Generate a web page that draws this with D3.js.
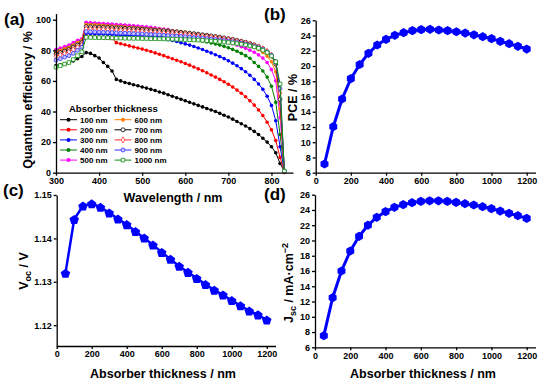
<!DOCTYPE html>
<html>
<head>
<meta charset="utf-8">
<script src="https://cdn.jsdelivr.net/npm/d3@7"></script>
<style>
  body { margin: 0; background: #fff; }
  text { font-family: "Liberation Sans", Arial, sans-serif; font-weight: bold; fill: #000; }
  .tick text { font-size: 9px; }
  .domain, .tick line { stroke: #000; stroke-width: 1.3px; }
</style>
</head>
<body>
<svg id="fig" width="550" height="386"></svg>
<script>
// ---- data ----
const wavelength = [300, 310, 320, 330, 340, 350, 360, 370, 380, 390,
  400, 410, 420, 430, 440, 450, 460, 470, 480, 490,
  500, 510, 520, 530, 540, 550, 560, 570, 580, 590,
  600, 610, 620, 630, 640, 650, 660, 670, 680, 690,
  700, 710, 720, 730, 740, 750, 760, 770, 780, 790,
  800, 810, 820, 830];

const qe100 = [70, 70.5, 71, 72, 73, 74.5, 76, 78.5, 78, 76.5,
  75, 72, 69.5, 66.5, 61, 60, 59, 58.3, 57.5, 56.8,
  56, 55.3, 54.5, 53.7, 52.8, 52, 51, 50, 49, 48,
  47, 46, 45, 44, 43, 42, 41, 40, 38.8, 37.6,
  36.4, 35, 33.5, 32, 30.5, 28.8, 27, 25, 22.5, 20,
  17, 13, 6, 1];
const qe200 = [78, 79, 80, 81, 82.5, 84, 85, 89, 88.8, 88.6,
  88.4, 88.2, 88, 87.8, 85, 84.3, 83.6, 82.9, 82.2, 81.5,
  80.8, 80, 79.2, 78.3, 77.4, 76.5, 75.5, 74.5, 73.5, 72.5,
  71.4, 70.3, 69.1, 67.9, 66.6, 65.3, 63.9, 62.5, 61, 59.5,
  57.8, 56, 54, 51.9, 49.6, 47, 44.2, 41, 37.4, 33,
  28, 21, 10, 1];
const qe300 = [79, 80, 81, 82, 83.5, 85, 86, 91, 90.8, 90.7,
  90.6, 90.5, 90.4, 90.3, 90, 89.9, 89.8, 89.7, 89.6, 89.5,
  89.4, 89.3, 89.2, 89.1, 89, 88.9, 87, 86.5, 85.8, 85,
  84.2, 83.4, 82.5, 81.5, 80.5, 79.4, 78.3, 77.1, 75.9, 74.6,
  73.2, 71.6, 69.9, 68, 66, 63.7, 61, 58, 54.5, 50,
  44, 34, 17, 1];
const qe400 = [80, 81, 82, 83, 84.5, 86, 87, 98, 97.8, 97.6,
  97.4, 97.2, 97, 96.8, 96.6, 96.4, 96.2, 96, 95.8, 95.6,
  95.2, 94.8, 94.3, 93.8, 93.2, 92.5, 91.8, 91, 90.2, 89.4,
  88.6, 87.9, 87.2, 86.6, 86, 85.4, 84.8, 84.1, 83.4, 82.6,
  81.7, 80.6, 79.4, 78, 76.5, 74.8, 72, 69.5, 66.5, 62.5,
  56.5, 46, 25, 1];
const qe500 = [80.5, 81.5, 82.5, 83.5, 85, 86.5, 87.5, 98.3, 98.1, 97.9,
  97.7, 97.5, 97.3, 97.1, 96.9, 96.7, 96.5, 96.3, 96.1, 95.9,
  95.6, 95.3, 95, 94.7, 94.3, 93.9, 93.5, 93, 92.5, 92,
  91.5, 91, 90.4, 89.8, 89.2, 88.6, 87.9, 87.2, 86.5, 85.8,
  85.1, 84.3, 83.4, 82.4, 81.3, 80.1, 78.7, 77, 74.9, 72,
  67.5, 60, 36, 1];
const qe600 = [79, 80, 81, 82, 83.5, 85, 86.5, 96.8, 96.7, 96.6,
  96.5, 96.3, 96.1, 95.9, 95.7, 95.5, 95.3, 95.1, 94.9, 94.7,
  94.5, 94.3, 94.1, 93.9, 93.7, 93.4, 93.1, 92.8, 92.5, 92.2,
  91.9, 91.5, 91.1, 90.7, 90.3, 89.8, 89.3, 88.8, 88.2, 87.6,
  87, 86.3, 85.6, 84.8, 83.9, 83, 81.8, 80.4, 78.6, 76.2,
  72.5, 66, 42, 1];
const qe700 = [77.5, 78.5, 79.5, 80.5, 82, 83.5, 85, 95.5, 95.4, 95.3,
  95.2, 95.1, 95, 94.9, 94.7, 94.6, 94.4, 94.3, 94.1, 94,
  93.8, 93.6, 93.4, 93.2, 93, 92.8, 92.6, 92.3, 92.1, 91.8,
  91.5, 91.2, 90.9, 90.6, 90.2, 89.9, 89.5, 89.1, 88.7, 88.2,
  87.7, 87.2, 86.6, 86, 85.3, 84.5, 83.6, 82.5, 81.1, 79.2,
  76.5, 71, 48, 1];
const qe800 = [76, 77, 78, 79, 80.5, 82, 83.5, 94, 93.9, 93.8,
  93.7, 93.6, 93.5, 93.4, 93.2, 93.1, 93, 92.8, 92.7, 92.5,
  92.4, 92.2, 92, 91.8, 91.6, 91.4, 91.2, 91, 90.8, 90.5,
  90.3, 90, 89.7, 89.4, 89.1, 88.8, 88.5, 88.1, 87.7, 87.3,
  86.9, 86.4, 85.9, 85.3, 84.7, 84, 83.2, 82.2, 80.9, 79.2,
  76.8, 72, 52, 1];
const qe900 = [73.5, 74.5, 75.5, 76.5, 78, 80, 82, 92.2, 92.1, 92,
  91.9, 91.8, 91.7, 91.6, 91.4, 91.3, 91.2, 91.1, 90.9, 90.8,
  90.7, 90.5, 90.4, 90.2, 90.1, 89.9, 89.7, 89.5, 89.3, 89.1,
  88.9, 88.7, 88.4, 88.2, 87.9, 87.7, 87.4, 87.1, 86.8, 86.4,
  86, 85.6, 85.1, 84.6, 84, 83.4, 82.6, 81.7, 80.5, 78.9,
  76.7, 72.5, 55, 1];
const qe1000 = [69, 70, 71, 72, 74, 76.5, 79, 88.5, 88.4, 88.3,
  88.3, 88.2, 88.2, 88.1, 88, 88, 87.9, 87.9, 87.8, 87.8,
  87.7, 87.7, 87.6, 87.6, 87.5, 87.5, 87.4, 87.3, 87.2, 87.1,
  87, 86.9, 86.8, 86.7, 86.5, 86.3, 86.1, 85.9, 85.7, 85.4,
  85.1, 84.8, 84.4, 84, 83.5, 82.9, 82.2, 81.3, 80.1, 78.5,
  76.3, 72.5, 58, 1];

const thickness = [50, 100, 150, 200, 250, 300, 350, 400, 450, 500, 550, 600,
  650, 700, 750, 800, 850, 900, 950, 1000, 1050, 1100, 1150, 1200];
const pce = [7.14, 12.04, 15.67, 18.34, 20.2, 21.67, 22.76, 23.5, 24.03, 24.37, 24.64, 24.77,
  24.82, 24.73, 24.64, 24.5, 24.33, 24.1, 23.85, 23.6, 23.24, 22.93, 22.59, 22.23];
const voc = [1.1320, 1.1444, 1.1475, 1.1480, 1.1472, 1.1459, 1.1445, 1.1432, 1.1416, 1.1401, 1.1385, 1.1368,
  1.1352, 1.1336, 1.1322, 1.1308, 1.1294, 1.1281, 1.1270, 1.1257, 1.1245, 1.1233, 1.1224, 1.1212];
const jsc = [7.52, 12.5, 16.0, 18.62, 20.55, 22.0, 23.04, 23.78, 24.35, 24.7, 24.95, 25.13,
  25.2, 25.2, 25.13, 25.0, 24.82, 24.65, 24.43, 24.17, 23.86, 23.56, 23.25, 22.9];

const qeLabels = ["100 nm", "200 nm", "300 nm", "400 nm", "500 nm",
  "600 nm", "700 nm", "800 nm", "900 nm", "1000 nm"];
const qeValues = [qe100, qe200, qe300, qe400, qe500, qe600, qe700, qe800, qe900, qe1000];

// styling per series (line colour, marker shape, marker fill)
const qeStyle = [
  { color: "#000000", shape: "circle", fill: "#000000" },
  { color: "#ff0000", shape: "circle", fill: "#ff0000" },
  { color: "#0000ff", shape: "circle", fill: "#0000ff" },
  { color: "#008000", shape: "circle", fill: "#008000" },
  { color: "#ff00ff", shape: "circle", fill: "#ff00ff" },
  { color: "#ff8000", shape: "circle", fill: "#ff8000" },
  { color: "#000000", shape: "circle", fill: "#ffffff" },
  { color: "#ff3030", shape: "diamond", fill: "#ffffff" },
  { color: "#3030ff", shape: "circle", fill: "#c8c8ff" },
  { color: "#109010", shape: "square", fill: "#ffffff" }
];

const svg = d3.select("#fig");

function poly(n, r, rot) {
  const pts = d3.range(n).map(i => {
    const a = rot + i * 2 * Math.PI / n;
    return [(r * Math.sin(a)).toFixed(2), (-r * Math.cos(a)).toFixed(2)];
  });
  return "M" + pts.join("L") + "Z";
}

function axes(g, x, y, xTicks, yTicks, yFmt) {
  g.append("g")
    .attr("transform", `translate(0,${y.range()[0]})`)
    .call(d3.axisBottom(x).tickValues(xTicks).tickSize(3).tickSizeOuter(0).tickPadding(2).tickFormat(d3.format("d")));
  g.append("g")
    .attr("transform", `translate(${x.range()[0]},0)`)
    .call(d3.axisLeft(y).tickValues(yTicks).tickSize(3).tickSizeOuter(0).tickPadding(2).tickFormat(yFmt));
}

function panelLabel(txt, x, y) {
  svg.append("text").attr("x", x).attr("y", y).attr("font-size", 17).text(txt);
}

function rotLabel(x, y) {
  return svg.append("text")
    .attr("transform", `translate(${x},${y}) rotate(-90)`)
    .attr("text-anchor", "middle")
    .attr("font-size", 12.5);
}

// ---- (a) quantum efficiency ----
const xa = d3.scaleLinear().domain([300, 850]).range([56, 293]);
const ya = d3.scaleLinear().domain([0, 104]).range([172.7, 13.6]);
const ga = svg.append("g");

const lineA = d3.line().x((d, i) => xa(wavelength[i])).y(d => ya(d));

qeValues.forEach((vals, k) => {
  const st = qeStyle[k];
  const s = ga.append("g");
  s.append("path").attr("d", lineA(vals))
    .attr("fill", "none").attr("stroke", st.color).attr("stroke-width", 1);
  const sym = st.shape === "circle" ? null
    : st.shape === "square" ? d3.symbol(d3.symbolSquare, 13)
    : d3.symbol(d3.symbolDiamond, 11);
  vals.forEach((v, i) => {
    const cx = xa(wavelength[i]), cy = ya(v);
    if (sym) {
      s.append("path").attr("d", sym()).attr("transform", `translate(${cx},${cy})`)
        .attr("fill", st.fill).attr("stroke", st.color).attr("stroke-width", 0.8);
    } else {
      s.append("circle").attr("cx", cx).attr("cy", cy)
        .attr("r", k < 6 ? 1.8 : 1.9)
        .attr("fill", st.fill).attr("stroke", st.color).attr("stroke-width", k < 6 ? 0 : 0.8);
    }
  });
});

axes(ga, xa, ya, [300, 400, 500, 600, 700, 800], [0, 20, 40, 60, 80, 100], d3.format("d"));

svg.append("text").attr("x", 173).attr("y", 201.5).attr("text-anchor", "middle")
  .attr("font-size", 12.5).text("Wavelength / nm");
rotLabel(31.5, 100).text("Quantum efficiency / %");
panelLabel("(a)", 4, 25);

// legend
const leg = svg.append("g");
leg.append("text").attr("x", 69).attr("y", 111.5).attr("font-size", 9.5).text("Absorber thickness");
qeLabels.forEach((lab, k) => {
  const st = qeStyle[k];
  const col = Math.floor(k / 5), row = k % 5;
  const x0 = col === 0 ? 60 : 114.5;
  const yy = 119.7 + row * 10.1;
  leg.append("line").attr("x1", x0).attr("x2", x0 + 17).attr("y1", yy).attr("y2", yy)
    .attr("stroke", st.color).attr("stroke-width", 1);
  const cx = x0 + 8.5;
  if (st.shape === "circle") {
    leg.append("circle").attr("cx", cx).attr("cy", yy).attr("r", 2)
      .attr("fill", st.fill).attr("stroke", st.color).attr("stroke-width", k < 6 ? 0 : 0.8);
  } else {
    const sym = st.shape === "square" ? d3.symbol(d3.symbolSquare, 13) : d3.symbol(d3.symbolDiamond, 11);
    leg.append("path").attr("d", sym()).attr("transform", `translate(${cx},${yy})`)
      .attr("fill", st.fill).attr("stroke", st.color).attr("stroke-width", 0.8);
  }
  leg.append("text").attr("x", x0 + 20).attr("y", yy + 3).attr("font-size", 8).text(lab);
});

// ---- (b) PCE ----
const xb = d3.scaleLinear().domain([0, 1250]).range([315.7, 535.5]);
const yb = d3.scaleLinear().domain([6, 26]).range([172.7, 20.3]);
const gb = svg.append("g");
axes(gb, xb, yb, [0, 200, 400, 600, 800, 1000, 1200], d3.range(6, 27, 2), d3.format("d"));
gb.append("path")
  .attr("d", d3.line().x((d, i) => xb(thickness[i])).y(d => yb(d))(pce))
  .attr("fill", "none").attr("stroke", "#0000ff").attr("stroke-width", 3);
gb.selectAll(".mk").data(pce).join("path")
  .attr("d", poly(6, 4.6, 0))
  .attr("transform", (d, i) => `translate(${xb(thickness[i])},${yb(d)})`)
  .attr("fill", "#0000ff");
rotLabel(296.5, 97.5).text("PCE / %");
panelLabel("(b)", 264, 20);

// ---- (c) Voc ----
const xc = d3.scaleLinear().domain([0, 1250]).range([56.7, 275.5]);
const yc = d3.scaleLinear().domain([1.1152, 1.15]).range([346, 195]);
const gc = svg.append("g");
axes(gc, xc, yc, [0, 200, 400, 600, 800, 1000, 1200], [1.12, 1.13, 1.14, 1.15], d3.format(".2f"));
gc.append("path")
  .attr("d", d3.line().x((d, i) => xc(thickness[i])).y(d => yc(d))(voc))
  .attr("fill", "none").attr("stroke", "#0000ff").attr("stroke-width", 2.5);
gc.selectAll(".mk").data(voc).join("path")
  .attr("d", poly(5, 5, 0))
  .attr("transform", (d, i) => `translate(${xc(thickness[i])},${yc(d) + 0.6})`)
  .attr("fill", "#0000ff");
const tc = rotLabel(28, 271);
tc.append("tspan").text("V");
tc.append("tspan").attr("font-size", 9).attr("dy", 3).text("oc");
tc.append("tspan").attr("dy", -3).text(" / V");
svg.append("text").attr("x", 163).attr("y", 377.5).attr("text-anchor", "middle")
  .attr("font-size", 12.5).text("Absorber thickness / nm");
panelLabel("(c)", 3, 196);

// ---- (d) Jsc ----
const xd = d3.scaleLinear().domain([0, 1250]).range([315, 535.5]);
const yd = d3.scaleLinear().domain([6, 26]).range([347.3, 194.7]);
const gd = svg.append("g");
axes(gd, xd, yd, [0, 200, 400, 600, 800, 1000, 1200], d3.range(6, 27, 2), d3.format("d"));
gd.append("path")
  .attr("d", d3.line().x((d, i) => xd(thickness[i])).y(d => yd(d))(jsc))
  .attr("fill", "none").attr("stroke", "#0000ff").attr("stroke-width", 3);
gd.selectAll(".mk").data(jsc).join("path")
  .attr("d", poly(6, 4.6, 0))
  .attr("transform", (d, i) => `translate(${xd(thickness[i])},${yd(d)})`)
  .attr("fill", "#0000ff");
const td = rotLabel(293, 283);
td.append("tspan").text("J");
td.append("tspan").attr("font-size", 9).attr("dy", 3).text("sc");
td.append("tspan").attr("dy", -3).text(" / mA\u00b7cm");
td.append("tspan").attr("font-size", 9).attr("dy", -5).text("\u22122");
svg.append("text").attr("x", 423).attr("y", 377.5).attr("text-anchor", "middle")
  .attr("font-size", 12.5).text("Absorber thickness / nm");
panelLabel("(d)", 264, 200);
</script>
</body>
</html>
